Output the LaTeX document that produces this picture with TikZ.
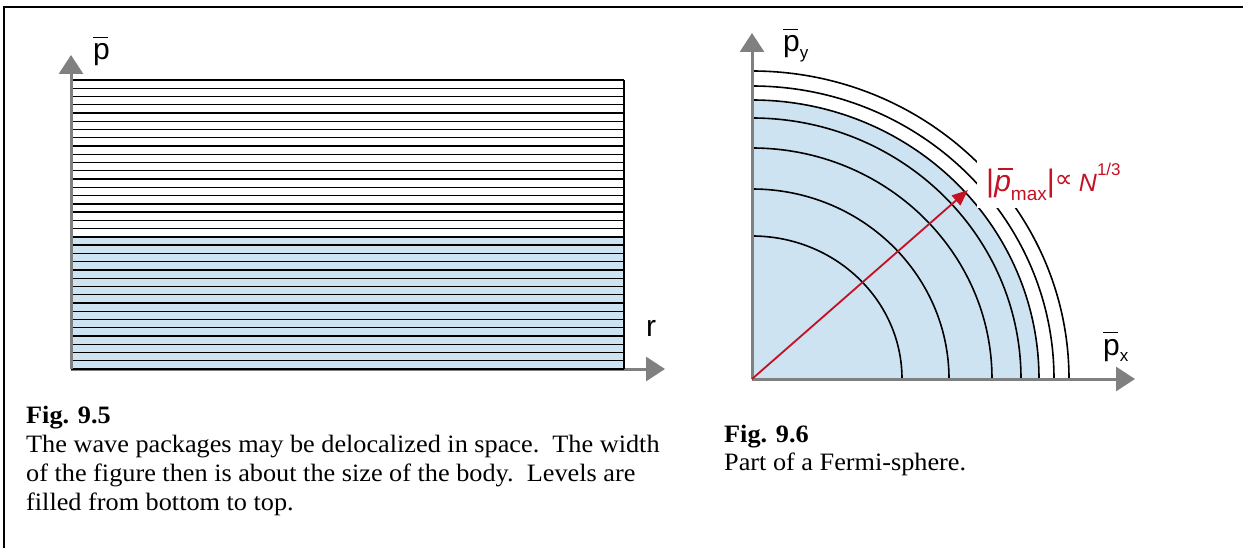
\documentclass[tikz,border=0pt]{standalone}
\usepackage{fontspec}
\setmainfont[FakeStretch=1.05]{Liberation Serif}
\newfontfamily\axisfont{Liberation Sans}
\newfontfamily\symbolfont{DejaVu Sans}
\usetikzlibrary{arrows.meta,positioning}
\definecolor{levelblue}{RGB}{206,227,242}
\definecolor{axisgray}{RGB}{128,128,128}
\definecolor{fermired}{RGB}{196,18,36}
\newcommand{\pbar}{\leavevmode\rlap{\rule[0.72em]{0.5em}{0.05em}}p}
\newcommand{\pbarit}{\leavevmode\rlap{\hspace{0.14em}\rule[0.72em]{0.5em}{0.05em}}\textit{p}}
\newcommand{\lowsub}[1]{\raisebox{-0.22em}{\fontsize{17}{17}\selectfont #1}}

\begin{document}
\begin{tikzpicture}[x=1pt, y=-1pt,
    axis/.style={draw=axisgray, line width=3pt, -{Triangle[length=19pt, width=24pt]}},
    level/.style={line width=1.3pt},
    shell/.style={line width=1.6pt},
    radius/.style={draw=fermired, line width=1.8pt, -{Triangle[length=16pt, width=13pt]}},
    axislabel/.style={font=\axisfont\fontsize{30}{30}\selectfont, inner sep=0pt},
    caption/.style={font=\fontsize{25}{29}\selectfont, inner sep=0pt, anchor=base west}]
  \useasboundingbox (0,0) rectangle (1243,548);
  \draw[line width=1.5pt] (4,548) -- (4,7) -- (1243,7);
  % Fig. 9.5
  \coordinate (A) at (71,369);
  \coordinate (Aup) at (71,55);
  \coordinate (Aright) at (665,369);
  \fill[levelblue] (71,{80+19*289/35}) rectangle (624,369);
  \draw[axis] (A) -- (Aright);
  \foreach \i in {0,...,35}
    \draw[level] (71,{80+\i*289/35}) -- (624,{80+\i*289/35});
  \draw[level] (624,80) -- (624,369);
  \draw[axis] (A) -- (Aup);
  \node[axislabel, anchor=base west] (pA) at (93,60) {\pbar};
  \node[axislabel, anchor=base west] (rA) at (646,336) {r};
  \node[caption, font=\bfseries\fontsize{25}{29}\selectfont] (fig95) at (26,423) {Fig. 9.5};
  \node[caption] (t1) at (26,452) {The wave packages may be delocalized in space.\ \ The width};
  \node[caption] (t2) at (26,481) {of the figure then is about the size of the body.\ \ Levels are};
  \node[caption] (t3) at (26,510) {filled from bottom to top.};
  % Fig. 9.6
  \coordinate (O) at (752,379);
  \coordinate (Oup) at (752,33);
  \coordinate (Oright) at (1135,379);
  \fill[levelblue] (O) -- ++(287,0) arc[start angle=0, end angle=-90, x radius=287, y radius=279] -- cycle;
  \foreach \rx/\ry in {150/143,197/190,240/231,269/261,287/279,302/293,317/308}
    \draw[shell] (O) ++(\rx,0) arc[start angle=0, end angle=-90, x radius=\rx, y radius=\ry];
  \draw[axis] (O) -- (Oup);
  \draw[axis] (O) -- (Oright);
  \coordinate (pmax) at (968,190);
  \draw[radius] (O) -- (pmax);
  \node[fill=white, minimum height=52pt, inner xsep=9pt, inner ysep=0pt, anchor=west,
        font=\axisfont, text=fermired] (pmaxlabel) at (977,182)
    {\fontsize{31}{31}\selectfont|{\fontsize{30}{30}\selectfont\pbarit}\raisebox{-0.3em}{\fontsize{19}{19}\selectfont max}|\raisebox{0.12em}{\symbolfont\fontsize{25}{25}\selectfont ∝}\hspace{0.2em}{\fontsize{25}{25}\selectfont\textit{N}}\raisebox{0.5em}{\fontsize{17}{17}\selectfont 1/3}};
  \node[axislabel, anchor=base west] (py) at (783,52) {\pbar\lowsub{y}};
  \node[axislabel, anchor=base west] (px) at (1103,355) {\pbar\lowsub{x}};
  \node[caption, font=\bfseries\fontsize{25}{29}\selectfont] (fig96) at (724,442) {Fig. 9.6};
  \node[caption] (t4) at (724,470) {Part of a Fermi-sphere.};
\end{tikzpicture}
\end{document}
